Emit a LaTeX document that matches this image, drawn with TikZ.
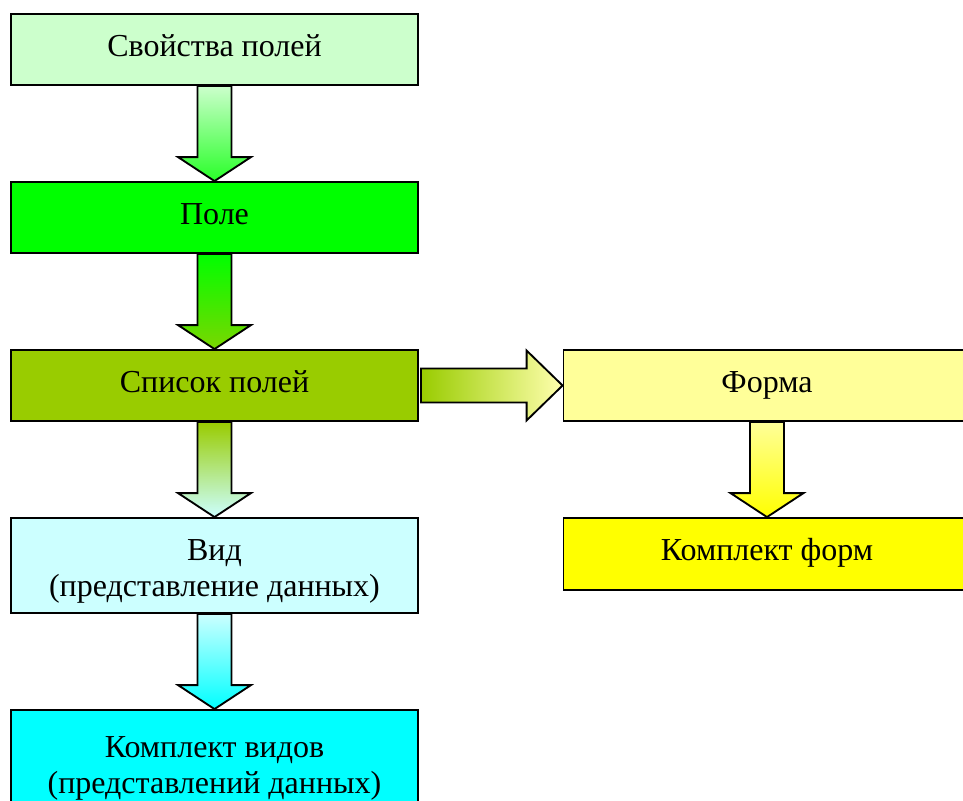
\documentclass[tikz,border=0pt]{standalone}
\usepackage{fontspec}
\setmainfont{Liberation Serif}
\usetikzlibrary{calc}
\definecolor{mintbox}{HTML}{CCFFCC}
\definecolor{greenbox}{HTML}{00FF00}
\definecolor{olivebox}{HTML}{99CC00}
\definecolor{paleyellow}{HTML}{FFFF99}
\definecolor{yellowbox}{HTML}{FFFF00}
\definecolor{palecyan}{HTML}{CCFFFF}
\definecolor{cyanbox}{HTML}{00FFFF}
\tikzset{
  stage/.style={rectangle,draw=black,line width=1.4pt,minimum width=407*0.75pt,
    minimum height=71*0.75pt,align=center,inner sep=0pt,
    font=\fontsize{24}{27}\selectfont},
  oneline/.style={stage,text height=17pt,text depth=7.25pt},
  flow/.style={draw=black,line width=1.4pt,line join=miter}
}
% block arrow downwards between two nodes
\newcommand{\flowdown}[4]{%
  \draw[flow,top color=#3,bottom color=#4]
    ($(#1.south)+(-17,0)$) -- ($(#2.north)+(-17,-24)$) -- ($(#2.north)+(-36.5,-24)$)
    -- (#2.north) -- ($(#2.north)+(36.5,-24)$) -- ($(#2.north)+(17,-24)$)
    -- ($(#1.south)+(17,0)$) -- cycle;}
\newcommand{\lowstrut}{\rule{0pt}{24pt}}

\begin{document}
\begin{tikzpicture}[x=0.75pt,y=-0.75pt]
  \clip (0,0) rectangle (963,800);
  \fill[white] (0,0) rectangle (963,800);
  \draw(214.5,49.5) node[oneline,fill=mintbox] (props) {Свойства полей};
  \draw(214.5,217.5) node[oneline,fill=greenbox] (field) {Поле};
  \draw(214.5,385.5) node[oneline,fill=olivebox] (list) {Список полей};
  \draw(214.5,565.5) node[stage,fill=palecyan,minimum height=95*0.75pt] (view) {\lowstrut Вид\\(представление данных)};
  \draw(214.5,762.5) node[stage,fill=cyanbox,minimum height=105*0.75pt] (views) {\lowstrut Комплект видов\\(представлений данных)};
  \draw(767,385.5) node[oneline,fill=paleyellow] (form) {Форма};
  \draw(767,554) node[oneline,fill=yellowbox,minimum height=72*0.75pt] (forms) {Комплект форм};
  \flowdown{props}{field}{mintbox}{greenbox!80!mintbox}
  \flowdown{field}{list}{greenbox}{olivebox!80!greenbox}
  \flowdown{list}{view}{olivebox}{palecyan}
  \flowdown{view}{views}{palecyan}{cyanbox}
  \flowdown{form}{forms}{paleyellow}{yellowbox}
  % arrow to the form
  \draw[flow,left color=olivebox,right color=paleyellow!80!white]
    ($(list.east)+(2,-17)$) -- ($(form.west)+(-36,-17)$) -- ($(form.west)+(-36,-35)$)
    -- (form.west) -- ($(form.west)+(-36,35)$) -- ($(form.west)+(-36,17)$)
    -- ($(list.east)+(2,17)$) -- cycle;
\end{tikzpicture}
\end{document}
